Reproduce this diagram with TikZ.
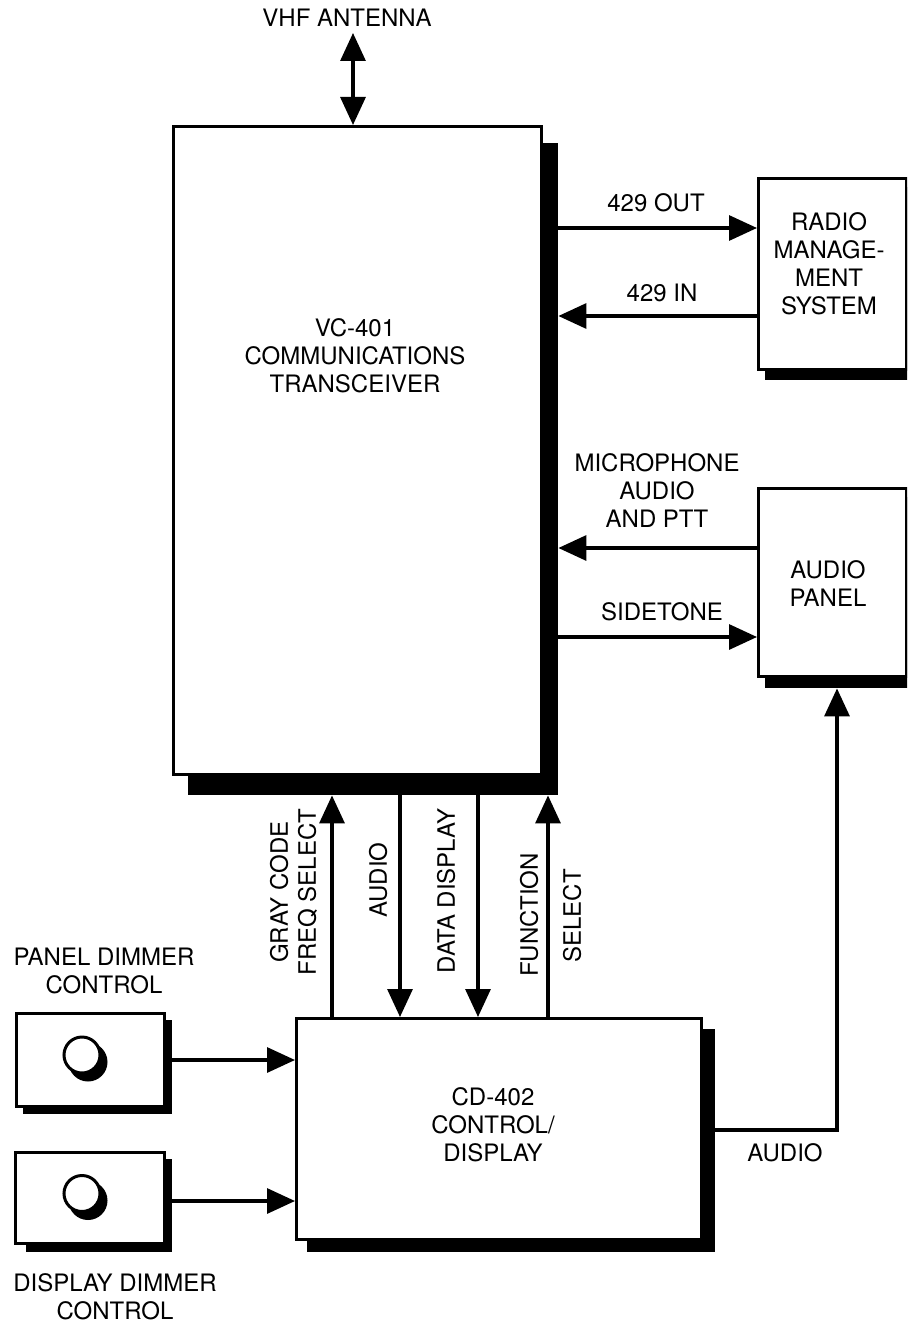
\documentclass[tikz,border=0pt]{standalone}
\usepackage{fontspec}
\setmainfont{TeX Gyre Heros}
\usetikzlibrary{arrows.meta}
\begin{document}
\begin{tikzpicture}[x=1pt,y=-1pt,
  box/.style={draw, fill=white, line width=3.2pt, inner sep=0pt, anchor=north west},
  shade/.style={fill=black, inner sep=0pt, anchor=north west},
  txt/.style={font=\fontsize{24}{28}\selectfont, align=center, inner sep=0pt},
  arr/.style={line width=3.2pt, -{Triangle[length=28pt,width=25pt]}},
  dblarr/.style={line width=3.2pt, {Triangle[length=28pt,width=25pt]}-{Triangle[length=28pt,width=25pt]}},
  knobring/.style={draw, fill=white, line width=3pt},
]
\useasboundingbox (0,0) rectangle (907,1324);
\clip (0,0) rectangle (907,1324);

% VC-401
\node[shade, minimum width=370pt, minimum height=652pt] (vcs) at (188,143) {};
\node[box, minimum width=368pt, minimum height=648pt] (vc) at (172,125) {};
\node[txt] (vct) at (355,356) {VC-401\\COMMUNICATIONS\\TRANSCEIVER};

% Radio management system
\node[shade, minimum width=150pt, minimum height=193pt] (rms) at (765,187) {};
\node[box, minimum width=148pt, minimum height=191pt] (radio) at (757,177) {};
\node[txt] (radiot) at (829,263.5) {RADIO\\MANAGE-\\MENT\\SYSTEM};

% Audio panel
\node[shade, minimum width=150pt, minimum height=191pt] (aps) at (765,497) {};
\node[box, minimum width=148pt, minimum height=188pt] (audio) at (757,487) {};
\node[txt] (audiot) at (828,584) {AUDIO\\PANEL};

% CD-402
\node[shade, minimum width=408pt, minimum height=223pt] (cds) at (307,1029) {};
\node[box, minimum width=405pt, minimum height=221pt] (cd) at (295,1017) {};
\node[txt] (cdt) at (493,1125) {CD-402\\CONTROL/\\DISPLAY};

% Dimmer boxes
\node[shade, minimum width=149pt, minimum height=94pt] (d1s) at (23,1020) {};
\node[box, minimum width=148pt, minimum height=93pt] (d1) at (15,1012) {};
\node[shade, minimum width=146pt, minimum height=93pt] (d2s) at (26,1159) {};
\node[box, minimum width=149pt, minimum height=91pt] (d2) at (14,1151) {};

% knobs
\fill (88,1062) circle (19.5);
\draw[knobring] (82,1055) circle (18);
\fill (88,1200.5) circle (19.5);
\draw[knobring] (82,1193.5) circle (18);

% labels
\node[txt] (vhf) at (347,18) {VHF ANTENNA};
\node[txt] (o429) at (656,203) {429 OUT};
\node[txt] (i429) at (662,293) {429 IN};
\node[txt] (mic) at (657,491) {MICROPHONE\\AUDIO\\AND PTT};
\node[txt] (side) at (662,612) {SIDETONE};
\node[txt] (aout) at (785,1153) {AUDIO};
\node[txt] (pdc) at (104,971) {PANEL DIMMER\\CONTROL};
\node[txt] (ddc) at (115,1296.5) {DISPLAY DIMMER\\CONTROL};
\node[txt, rotate=90] (gray) at (293.5,892) {GRAY CODE\\FREQ SELECT};
\node[txt, rotate=90] (aud) at (378,880) {AUDIO};
\node[txt, rotate=90] (dd) at (446,891) {DATA DISPLAY};
\node[txt, rotate=90] (fun) at (529,915) {FUNCTION};
\node[txt, rotate=90] (sel) at (572,916) {SELECT};

% connectors
\coordinate (ant) at (353,33);
\draw[dblarr] (ant) -- (ant |- vc.north);
\draw[arr] (vcs.east |- 0,228) -- (radio.west |- 0,228);
\draw[arr] (radio.west |- 0,316) -- (vcs.east |- 0,316);
\draw[arr] (audio.west |- 0,548) -- (vcs.east |- 0,548);
\draw[arr] (vcs.east |- 0,637) -- (audio.west |- 0,637);
\draw[arr] (cd.north -| 332,0) -- (vcs.south -| 332,0);
\draw[arr] (vcs.south -| 400,0) -- (cd.north -| 400,0);
\draw[arr] (vcs.south -| 478,0) -- (cd.north -| 478,0);
\draw[arr] (cd.north -| 548,0) -- (vcs.south -| 548,0);
\draw[arr] (d1s.east |- 0,1060) -- (cd.west |- 0,1060);
\draw[arr] (d2s.east |- 0,1201) -- (cd.west |- 0,1201);
\draw[arr] (cds.east |- 0,1130) -| (aps.south -| 837,0);
\end{tikzpicture}
\end{document}
